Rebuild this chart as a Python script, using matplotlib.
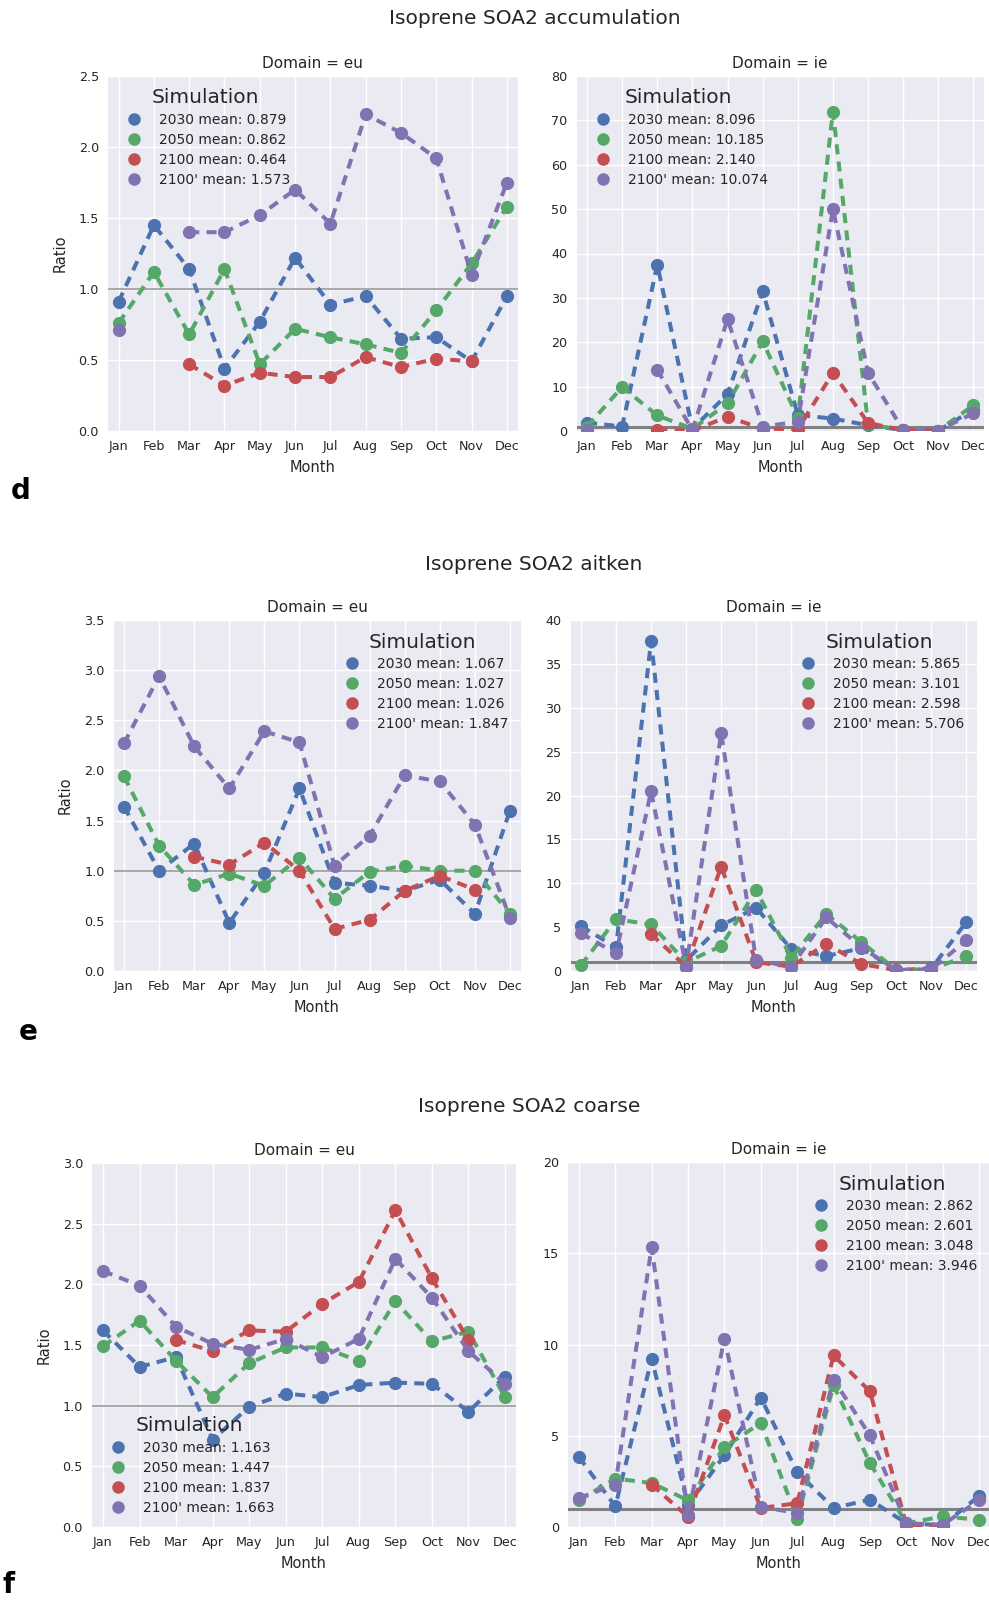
import numpy as np
import matplotlib
matplotlib.use("Agg")
import matplotlib.pyplot as plt
from matplotlib.lines import Line2D

nan = np.nan
months = ["Jan", "Feb", "Mar", "Apr", "May", "Jun", "Jul", "Aug", "Sep", "Oct", "Nov", "Dec"]
sim_names = ["2030", "2050", "2100", "2100'"]
colors = ["#4C72B0", "#55A868", "#C44E52", "#8172B2"]

# ---- Isoprene SOA2 accumulation ----
acc_eu_2030 = [0.91, 1.45, 1.14, 0.44, 0.77, 1.22, 0.89, 0.95, 0.65, 0.66, 0.49, 0.95]
acc_eu_2050 = [0.76, 1.12, 0.68, 1.14, 0.47, 0.72, 0.66, 0.61, 0.55, 0.85, 1.18, 1.58]
acc_eu_2100 = [nan, nan, 0.47, 0.32, 0.41, 0.38, 0.38, 0.52, 0.45, 0.51, 0.49, nan]
acc_eu_2100p = [0.71, nan, 1.40, 1.40, 1.52, 1.70, 1.46, 2.23, 2.10, 1.92, 1.10, 1.75]
acc_eu_means = ["0.879", "0.862", "0.464", "1.573"]

acc_ie_2030 = [1.9, 1.0, 37.5, 0.5, 8.3, 31.5, 3.6, 2.8, 1.3, 0.2, 0.1, 4.8]
acc_ie_2050 = [1.0, 9.9, 3.5, 0.5, 6.2, 20.2, 3.0, 72.0, 1.5, 0.2, 0.1, 5.8]
acc_ie_2100 = [nan, nan, 0.3, 0.1, 3.2, 0.5, 0.4, 13.1, 1.8, 0.2, 0.05, nan]
acc_ie_2100p = [0.2, nan, 13.8, 0.2, 25.2, 1.0, 2.1, 50.0, 13.1, 0.2, 0.1, 4.0]
acc_ie_means = ["8.096", "10.185", "2.140", "10.074"]

# ---- Isoprene SOA2 aitken ----
ait_eu_2030 = [1.64, 1.00, 1.27, 0.48, 0.98, 1.82, 0.88, 0.85, 0.80, 0.91, 0.57, 1.60]
ait_eu_2050 = [1.94, 1.25, 0.86, 0.97, 0.85, 1.13, 0.72, 0.99, 1.05, 1.00, 1.00, 0.57]
ait_eu_2100 = [nan, nan, 1.14, 1.06, 1.28, 1.00, 0.42, 0.51, 0.80, 0.95, 0.81, nan]
ait_eu_2100p = [2.27, 2.94, 2.24, 1.82, 2.39, 2.28, 1.05, 1.35, 1.95, 1.89, 1.46, 0.53]
ait_eu_means = ["1.067", "1.027", "1.026", "1.847"]

ait_ie_2030 = [5.1, 2.7, 37.6, 1.2, 5.2, 7.2, 2.5, 1.7, 2.6, 0.1, 0.3, 5.6]
ait_ie_2050 = [0.65, 5.9, 5.3, 1.0, 2.85, 9.2, 1.5, 6.5, 3.3, 0.1, 0.2, 1.7]
ait_ie_2100 = [nan, nan, 4.2, 0.5, 11.9, 1.0, 0.5, 3.1, 0.8, 0.1, 0.1, nan]
ait_ie_2100p = [4.3, 2.0, 20.5, 0.5, 27.1, 1.2, 0.5, 6.1, 2.7, 0.1, 0.2, 3.5]
ait_ie_means = ["5.865", "3.101", "2.598", "5.706"]

# ---- Isoprene SOA2 coarse ----
coa_eu_2030 = [1.62, 1.32, 1.40, 0.72, 0.99, 1.10, 1.07, 1.17, 1.19, 1.18, 0.95, 1.24]
coa_eu_2050 = [1.49, 1.70, 1.37, 1.07, 1.35, 1.48, 1.48, 1.37, 1.86, 1.53, 1.61, 1.07]
coa_eu_2100 = [nan, nan, 1.54, 1.45, 1.62, 1.61, 1.84, 2.02, 2.61, 2.05, 1.54, nan]
coa_eu_2100p = [2.11, 1.99, 1.65, 1.51, 1.46, 1.55, 1.40, 1.55, 2.21, 1.89, 1.45, 1.18]
coa_eu_means = ["1.163", "1.447", "1.837", "1.663"]

coa_ie_2030 = [3.84, 1.13, 9.22, 1.2, 3.93, 7.09, 3.01, 1.04, 1.5, 0.2, 0.1, 1.7]
coa_ie_2050 = [1.46, 2.65, 2.41, 1.46, 4.38, 5.7, 0.46, 7.76, 3.5, 0.2, 0.58, 0.4]
coa_ie_2100 = [nan, nan, 2.32, 0.55, 6.12, 1.04, 1.3, 9.4, 7.43, 0.13, 0.05, nan]
coa_ie_2100p = [1.59, 2.32, 15.34, 0.64, 10.32, 1.1, 0.77, 8.07, 5.02, 0.2, 0.13, 1.46]
coa_ie_means = ["2.862", "2.601", "3.048", "3.946"]

# ---- style ----
plt.rcParams.update({
    "font.family": ["DejaVu Sans"],
    "axes.facecolor": "#EAEAF2",
    "axes.edgecolor": "white",
    "axes.grid": True,
    "axes.axisbelow": True,
    "grid.color": "white",
    "grid.linewidth": 1.0,
    "text.color": ".15",
    "axes.labelcolor": ".15",
    "xtick.color": ".15",
    "ytick.color": ".15",
    "xtick.major.size": 0,
    "ytick.major.size": 0,
    "xtick.major.pad": 6.5,
    "ytick.major.pad": 6.5,
})

W, H = 989, 1602
fig = plt.figure(figsize=(W / 100, H / 100), dpi=100)


def add_ax(l, t, r, b):
    return fig.add_axes([l / W, 1 - b / H, (r - l) / W, (b - t) / H])


def panel(ax, series, means, domain, ylim, yticks, fmt, legend_loc, show_ylabel, ref_style):
    x = np.arange(len(months))
    ax.axhline(1.0, color=ref_style[0], lw=ref_style[1], zorder=1.5)
    for vals, c in zip(series, colors):
        ax.plot(x, vals, color=c, ls=(0, (2.5, 1.8)), lw=2.9, marker="o",
                ms=8.5, mec=c, mfc=c, zorder=3)
    ax.set_xlim(-0.3, 11.3)
    ax.set_ylim(*ylim)
    ax.set_yticks(yticks)
    ax.set_yticklabels([fmt.format(v) for v in yticks], fontsize=9.2)
    ax.set_xticks(x)
    ax.set_xticklabels(months, fontsize=9.2)
    for s in ax.spines.values():
        s.set_visible(False)
    ax.set_title("Domain = " + domain, fontsize=11, pad=6)
    ax.set_xlabel("Month", fontsize=10.5, labelpad=5)
    if show_ylabel:
        ax.set_ylabel("Ratio", fontsize=10.5, labelpad=8)
    handles = [Line2D([], [], ls="none", marker="o", ms=8, color=c) for c in colors]
    labels = ["{} mean: {}".format(n, m) for n, m in zip(sim_names, means)]
    leg = ax.legend(handles, labels, loc=legend_loc, title="Simulation", frameon=False,
                    fontsize=10, title_fontsize=14.5, labelspacing=0.42)
    leg.get_title().set_color(".15")
    for t in leg.get_texts():
        t.set_color(".15")


eu_ref = ("#9a9a9a", 1.2)
ie_ref = ("#808080", 2.2)

# Row d: accumulation
ax = add_ax(108, 76, 517.5, 431)
panel(ax, [acc_eu_2030, acc_eu_2050, acc_eu_2100, acc_eu_2100p], acc_eu_means, "eu",
      (0, 2.5), np.arange(0, 2.51, 0.5), "{:.1f}", "upper left", True, eu_ref)
ax = add_ax(576.5, 76, 984, 431)
panel(ax, [acc_ie_2030, acc_ie_2050, acc_ie_2100, acc_ie_2100p], acc_ie_means, "ie",
      (0, 80), np.arange(0, 81, 10), "{:.0f}", "upper left", False, ie_ref)

# Row e: aitken
ax = add_ax(113.5, 620, 520.5, 971)
panel(ax, [ait_eu_2030, ait_eu_2050, ait_eu_2100, ait_eu_2100p], ait_eu_means, "eu",
      (0, 3.5), np.arange(0, 3.51, 0.5), "{:.1f}", "upper right", True, eu_ref)
ax = add_ax(570.5, 620, 977, 971)
panel(ax, [ait_ie_2030, ait_ie_2050, ait_ie_2100, ait_ie_2100p], ait_ie_means, "ie",
      (0, 40), np.arange(0, 41, 5), "{:.0f}", "upper right", False, ie_ref)

# Row f: coarse
ax = add_ax(92, 1163, 516, 1527)
panel(ax, [coa_eu_2030, coa_eu_2050, coa_eu_2100, coa_eu_2100p], coa_eu_means, "eu",
      (0, 3.0), np.arange(0, 3.01, 0.5), "{:.1f}", "lower left", True, eu_ref)
ax = add_ax(568, 1162, 990, 1527)
panel(ax, [coa_ie_2030, coa_ie_2050, coa_ie_2100, coa_ie_2100p], coa_ie_means, "ie",
      (0, 20), np.arange(0, 21, 5), "{:.0f}", "upper right", False, ie_ref)

# Figure titles and panel letters
for txt, xp, yp in [("Isoprene SOA2 accumulation", 535, 18),
                    ("Isoprene SOA2 aitken", 534, 564),
                    ("Isoprene SOA2 coarse", 529, 1106)]:
    fig.text(xp / W, 1 - yp / H, txt, fontsize=14.5, ha="center", va="center", color=".15")

for txt, xp, yp in [("d", 21, 491), ("e", 28, 1032), ("f", 9, 1585)]:
    fig.text(xp / W, 1 - yp / H, txt, fontsize=20, fontweight="bold", ha="center",
             va="center", color="black")

fig.savefig("out.png", dpi=100)
